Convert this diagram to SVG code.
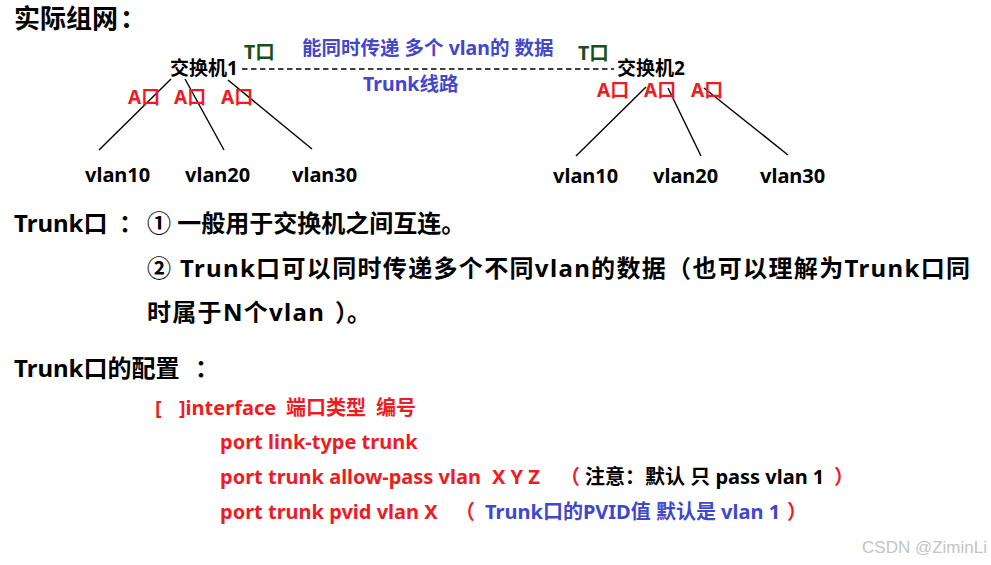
<svg xmlns="http://www.w3.org/2000/svg" width="991" height="565" viewBox="0 0 991 565">
<style>
text{font-family:"Noto Sans","Noto Sans CJK SC",sans-serif;font-weight:bold}
.h{font-size:24px;fill:#000}
.sw{font-size:19px;fill:#000}
.vl{font-size:20px;fill:#000}
.ap{font-size:19px;fill:#ed1c24}
.tp{font-size:19.5px;fill:#17501a}
.bl{font-size:19.5px;fill:#4347c8}
.cfg{font-size:20px;fill:#ed1c24}
.cb{fill:#000}
.cu{fill:#3f48cc}
.wm{font-family:"Liberation Sans",sans-serif;font-weight:normal;font-size:17px;fill:#c4c4c4}
.ln{stroke:#000;stroke-width:1.4;fill:none}
.dash{stroke:#000;stroke-width:1.4;stroke-dasharray:5.5 3.5;fill:none}
</style>
<rect width="991" height="565" fill="#fff"/>
<text class="h" style="font-size:26px" x="14" y="28"><tspan>实际组网</tspan><tspan x="120">：</tspan></text>
<g id="connectors">
<line class="dash" x1="242" y1="69" x2="614" y2="69"/>
<line class="ln" x1="171" y1="79" x2="99" y2="150"/>
<line class="ln" x1="185" y1="79" x2="224" y2="150"/>
<line class="ln" x1="228" y1="80" x2="312" y2="149"/>
<line class="ln" x1="646" y1="87" x2="576" y2="156"/>
<line class="ln" x1="668" y1="88" x2="701" y2="156"/>
<line class="ln" x1="704" y1="88" x2="788" y2="155"/>
</g>
<g id="link-labels">
<text class="tp" x="244" y="59">T口</text>
<text class="tp" x="578" y="60">T口</text>
<text class="bl" x="302" y="55">能同时传递 多个 vlan的 数据</text>
<text class="bl" x="363" y="91">Trunk线路</text>
</g>
<g id="switch1">
<text class="sw" x="170" y="75">交换机1</text>
<text class="ap" x="128" y="104">A口</text>
<text class="ap" x="174" y="104">A口</text>
<text class="ap" x="221" y="104">A口</text>
</g>
<g id="switch2">
<text class="sw" x="617" y="75">交换机2</text>
<text class="ap" x="597" y="97">A口</text>
<text class="ap" x="644" y="97">A口</text>
<text class="ap" x="691" y="97">A口</text>
</g>
<g id="vlans1">
<text class="vl" x="85" y="182">vlan10</text>
<text class="vl" x="185" y="182">vlan20</text>
<text class="vl" x="292" y="182">vlan30</text>
</g>
<g id="vlans2">
<text class="vl" x="553" y="183">vlan10</text>
<text class="vl" x="653" y="183">vlan20</text>
<text class="vl" x="760" y="183">vlan30</text>
</g>
<g id="trunk-desc">
<text class="h" x="14" y="232"><tspan>Trunk口</tspan><tspan x="119">：</tspan></text>
<text class="h" x="147" y="232">① 一般用于交换机之间互连。</text>
<text class="h" x="147" y="277" textLength="823" lengthAdjust="spacing">② Trunk口可以同时传递多个不同vlan的数据（也可以理解为Trunk口同</text>
<text class="h" y="321"><tspan x="147" style="letter-spacing:1.3px">时属于N个vlan</tspan><tspan x="335">）</tspan><tspan x="347">。</tspan></text>
</g>
<g id="trunk-config">
<text class="h" x="14" y="377"><tspan>Trunk口的配置</tspan><tspan x="195">：</tspan></text>
<text class="cfg" y="415"><tspan x="155">[</tspan><tspan x="179">]interface</tspan><tspan x="286">端口类型</tspan><tspan x="376">编号</tspan></text>
<text class="cfg" x="220" y="449">port link-type trunk</text>
<text class="cfg" y="484"><tspan x="220">port trunk allow-pass vlan</tspan><tspan x="492">X Y Z</tspan><tspan x="560">（</tspan><tspan class="cb" x="585">注意：默认 只 pass vlan 1</tspan><tspan x="834">）</tspan></text>
<text class="cfg" y="519"><tspan x="220">port trunk pvid vlan X</tspan><tspan x="455">（</tspan><tspan class="cu" x="485">Trunk口的PVID值 默认是 vlan 1</tspan><tspan x="787">）</tspan></text>
</g>
<text class="wm" x="987" y="553" text-anchor="end">CSDN @ZiminLi</text>
</svg>
